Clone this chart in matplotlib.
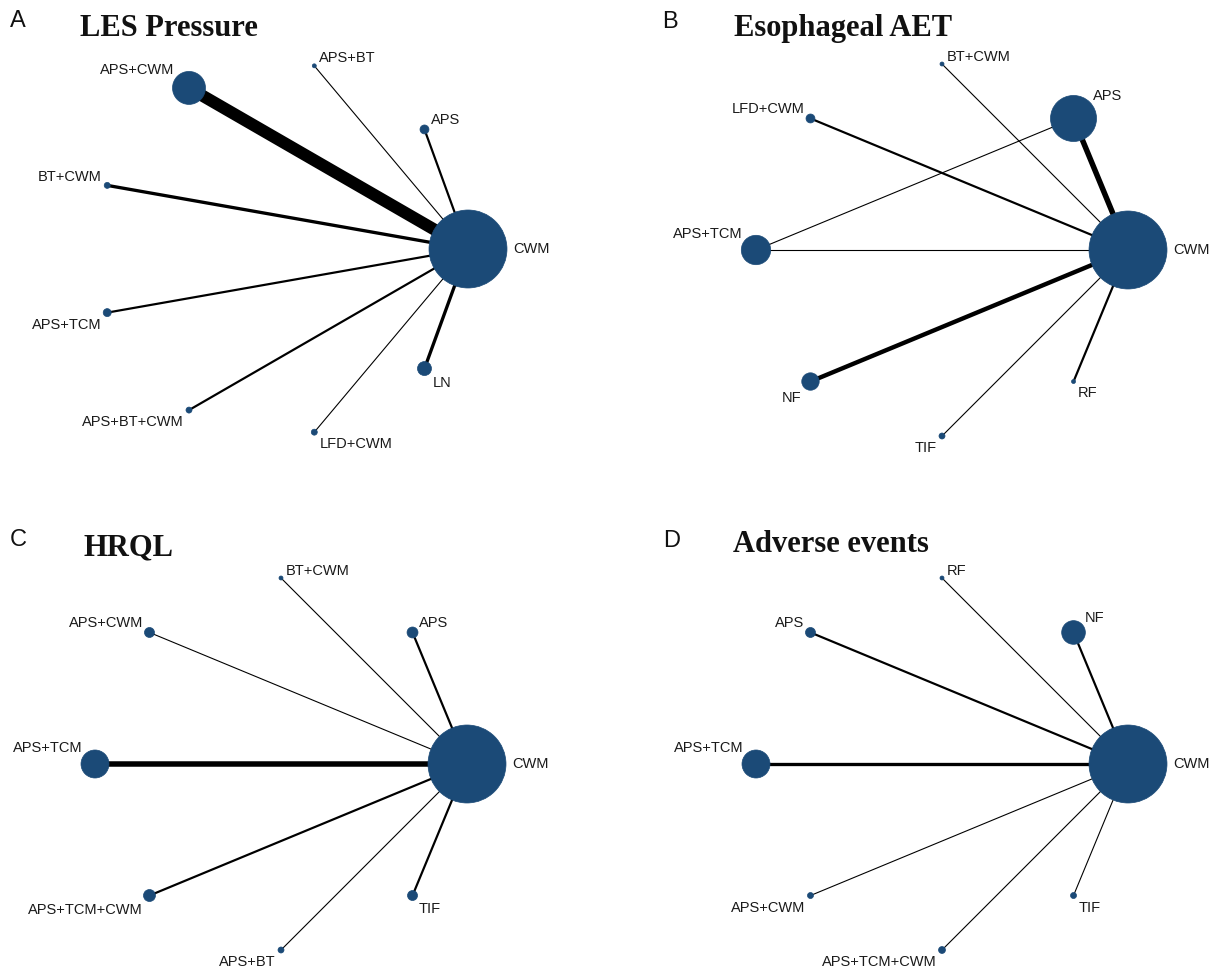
import numpy as np
import matplotlib
matplotlib.use('Agg')
import matplotlib.pyplot as plt
from matplotlib.patches import Circle

# figure size in pixels (dpi 100)
W, H = 1215, 969
NODE_COLOR = '#1b4a77'
RADIUS = 186          # layout circle radius, px
PX_PER_STUDY = 1.1    # edge width per study, px
PT = 0.72             # px -> points at 100 dpi

# A: LES pressure
a_title = 'LES Pressure'
a_nodes = ['CWM', 'APS', 'APS+BT', 'APS+CWM', 'BT+CWM', 'APS+TCM',
           'APS+BT+CWM', 'LFD+CWM', 'LN']
a_size = [1520, 20, 4, 272, 9, 16, 9, 9, 49]
a_edges = [('CWM', 'APS', 2), ('CWM', 'APS+BT', 1), ('CWM', 'APS+CWM', 11),
           ('CWM', 'BT+CWM', 3), ('CWM', 'APS+TCM', 2), ('CWM', 'APS+BT+CWM', 2),
           ('CWM', 'LFD+CWM', 1), ('CWM', 'LN', 3)]

# B: esophageal acid exposure time
b_title = 'Esophageal AET'
b_nodes = ['CWM', 'APS', 'BT+CWM', 'LFD+CWM', 'APS+TCM', 'NF', 'TIF', 'RF']
b_size = [1520, 530, 4, 20, 216, 76, 9, 4]
b_edges = [('CWM', 'APS', 5), ('CWM', 'BT+CWM', 1), ('CWM', 'LFD+CWM', 2),
           ('APS+TCM', 'APS', 1), ('CWM', 'APS+TCM', 1), ('CWM', 'NF', 4),
           ('CWM', 'TIF', 1), ('CWM', 'RF', 2)]

# C: health-related quality of life
c_title = 'HRQL'
c_nodes = ['CWM', 'APS', 'BT+CWM', 'APS+CWM', 'APS+TCM', 'APS+TCM+CWM',
           'APS+BT', 'TIF']
c_size = [1520, 30, 4, 25, 196, 36, 9, 25]
c_edges = [('CWM', 'APS', 2), ('CWM', 'BT+CWM', 1), ('CWM', 'APS+CWM', 1),
           ('CWM', 'APS+TCM', 5), ('CWM', 'APS+TCM+CWM', 2), ('CWM', 'APS+BT', 1),
           ('CWM', 'TIF', 2)]

# D: adverse events
d_title = 'Adverse events'
d_nodes = ['CWM', 'NF', 'RF', 'APS', 'APS+TCM', 'APS+CWM', 'APS+TCM+CWM', 'TIF']
d_size = [1520, 140, 4, 25, 196, 9, 12, 9]
d_edges = [('CWM', 'NF', 2), ('CWM', 'RF', 1), ('CWM', 'APS', 2),
           ('CWM', 'APS+TCM', 3), ('CWM', 'APS+CWM', 1), ('CWM', 'APS+TCM+CWM', 1),
           ('CWM', 'TIF', 1)]


def draw_panel(fig, box, centre, nodes, size, edges):
    left, top, w, h = box
    cx, cy = centre
    ax = fig.add_axes([left / W, 1 - (top + h) / H, w / W, h / H])
    # data units are pixels, origin at the layout centre
    ax.set_xlim(left - cx, left + w - cx)
    ax.set_ylim(cy - (top + h), cy - top)
    ax.axis('off')

    n = len(nodes)
    deg = np.arange(n) * 360.0 / n
    pos = {name: (RADIUS * np.cos(np.radians(d)), RADIUS * np.sin(np.radians(d)))
           for name, d in zip(nodes, deg)}

    for a, b, k in edges:
        (x0, y0), (x1, y1) = pos[a], pos[b]
        ax.plot([x0, x1], [y0, y1], color='black', lw=k * PX_PER_STUDY * PT,
                solid_capstyle='butt', zorder=1)

    for i, (name, d, s) in enumerate(zip(nodes, deg, size)):
        x, y = pos[name]
        r = np.sqrt(s)
        ax.add_patch(Circle((x, y), r, facecolor=NODE_COLOR,
                            edgecolor=NODE_COLOR, lw=0.5, zorder=2))
        if i == 0:
            ax.text(x + r + 6, y, name, ha='left', va='center', fontsize=10.5,
                    color='#1a1a1a', clip_on=False)
            continue
        right = d <= 90 or d > 270
        upper = d <= 180
        dx = 0.7 * r + 3
        tx = x + dx if right else x - dx
        if upper:
            ty, va = y + 0.7 * r + 2, 'baseline'
        else:
            ty, va = y - 0.7 * r - 3, 'top'
        ax.text(tx, ty, name, ha='left' if right else 'right', va=va,
                fontsize=10.5, color='#1a1a1a', clip_on=False)
    return ax


plt.rcParams['font.family'] = ['Liberation Sans', 'DejaVu Sans']
fig = plt.figure(figsize=(W / 100, H / 100), dpi=100)

panels = [
    ('A', a_title, (0, 0, 607, 484), (282, 249), (10, 21), (80, 36), a_nodes, a_size, a_edges),
    ('B', b_title, (607, 0, 608, 484), (942, 250), (662, 22), (734, 36), b_nodes, b_size, b_edges),
    ('C', c_title, (0, 484, 607, 485), (281, 764), (10, 540), (83, 555), c_nodes, c_size, c_edges),
    ('D', d_title, (607, 484, 608, 485), (942, 764), (663, 541), (733, 552), d_nodes, d_size, d_edges),
]

for letter, title, box, centre, lpos, tpos, nodes, size, edges in panels:
    draw_panel(fig, box, centre, nodes, size, edges)
    fig.text(lpos[0] / W, 1 - lpos[1] / H, letter, fontsize=17, va='center',
             ha='left', color='#111111')
    fig.text(tpos[0] / W, 1 - tpos[1] / H, title, fontsize=22, fontweight='bold',
             family=['Liberation Serif', 'DejaVu Serif'], va='baseline', ha='left',
             color='#111111')

fig.savefig('out.png', dpi=100)
